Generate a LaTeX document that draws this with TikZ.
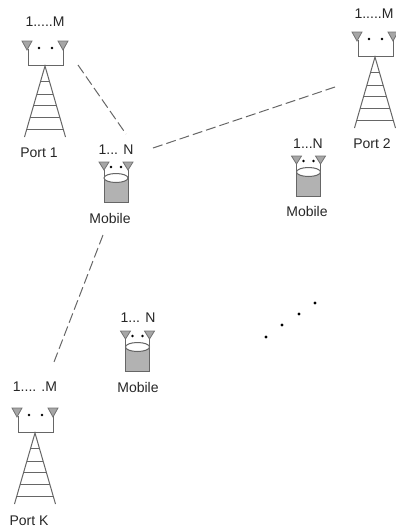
\documentclass[tikz,border=0pt]{standalone}
\usepackage{fontspec}
\setmainfont{Liberation Sans}
\usetikzlibrary{calc}

\begin{document}
\begin{tikzpicture}[
  x=1pt, y=-1pt,
  lbl/.style={font=\fontsize{14}{16}\selectfont, text=black!85, inner sep=0pt},
  tower/.style={draw=black!60, line width=1pt},
  link/.style={draw=black!60, line width=1pt, dash pattern=on 10pt off 4pt},
  antenna/.style={draw=black!55, fill=black!35, line width=0.8pt},
  dotmark/.style={circle, fill=black, inner sep=0pt, minimum size=2.6pt},
  port/.pic={
    \draw[antenna] (-23,-25) -- (-13,-25) -- (-18,-16) -- cycle;
    \draw[antenna] (13,-25) -- (23,-25) -- (18,-16) -- cycle;
    \draw[tower] (-17,-17) -- (-17,-1) -- (18,-1) -- (18,-17);
    \node[dotmark] (-dotl) at (-6,-18) {};
    \node[dotmark] (-dotr) at (7,-18) {};
    \draw[tower] (-20.5,71) -- (0,0) -- (20.5,71);
    \foreach \dy in {15,28,39,51,63}
      \draw[tower] ({-0.289*\dy},\dy) -- ({0.289*\dy},\dy);
  },
  mobile/.pic={
    \draw[antenna] (-17,-16) -- (-7,-16) -- (-12,-8) -- cycle;
    \draw[antenna] (7,-16) -- (17,-16) -- (12,-8) -- cycle;
    \draw[tower] (-12,-8) -- (-12,0);
    \draw[tower] (12,-8) -- (12,0);
    \node[dotmark] (-dotl) at (-5,-11) {};
    \node[dotmark] (-dotr) at (5,-11) {};
    \draw[tower, fill=black!30] (-12,0) -- (-12,24) -- (12,24) -- (12,0) -- cycle;
    \draw[tower, fill=white] (0,0) ellipse (12 and 4.5);
  }
]
\useasboundingbox (0,0) rectangle (396,531);

% ports
\pic (portone) at (45,66) {port};
\pic (porttwo) at (375,57) {port};
\pic (portk) at (35,433) {port};
\node[lbl] (portonem) at (45,22) {1.....M};
\node[lbl] (porttwom) at (374,14) {1.....M};
\node[lbl] (portkm) at (35,387) {1.... .M};
\node[lbl] (portonename) at (39,153) {Port 1};
\node[lbl] (porttwoname) at (372,144) {Port 2};
\node[lbl] (portkname) at (29,521) {Port K};

% mobiles
\pic (mobone) at (116,178) {mobile};
\pic (mobtwo) at (308.5,172) {mobile};
\pic (mobthree) at (137.5,347) {mobile};
\node[lbl] (mobonen) at (116,150) {1... N};
\node[lbl] (mobtwon) at (308,144) {1...N};
\node[lbl] (mobthreen) at (138,318) {1... N};
\node[lbl] (mobonename) at (110,218) {Mobile};
\node[lbl] (mobtwoname) at (307,211) {Mobile};
\node[lbl] (mobthreename) at (138,387) {Mobile};

% links
\coordinate (linka) at (78,65);
\coordinate (linkb) at (126,134);
\coordinate (linkc) at (153,148);
\coordinate (linkd) at (335,87);
\coordinate (linke) at (103,235);
\coordinate (linkf) at (54,362);
\draw[link] (linka) -- (linkb);
\draw[link] (linkc) -- (linkd);
\draw[link] (linke) -- (linkf);

% more mobiles
\node[dotmark, minimum size=3.4pt] (morea) at (266,337) {};
\node[dotmark, minimum size=3.4pt] (moreb) at (282,325) {};
\node[dotmark, minimum size=3.4pt] (morec) at (299,314) {};
\node[dotmark, minimum size=3.4pt] (mored) at (315,303) {};

\end{tikzpicture}
\end{document}
